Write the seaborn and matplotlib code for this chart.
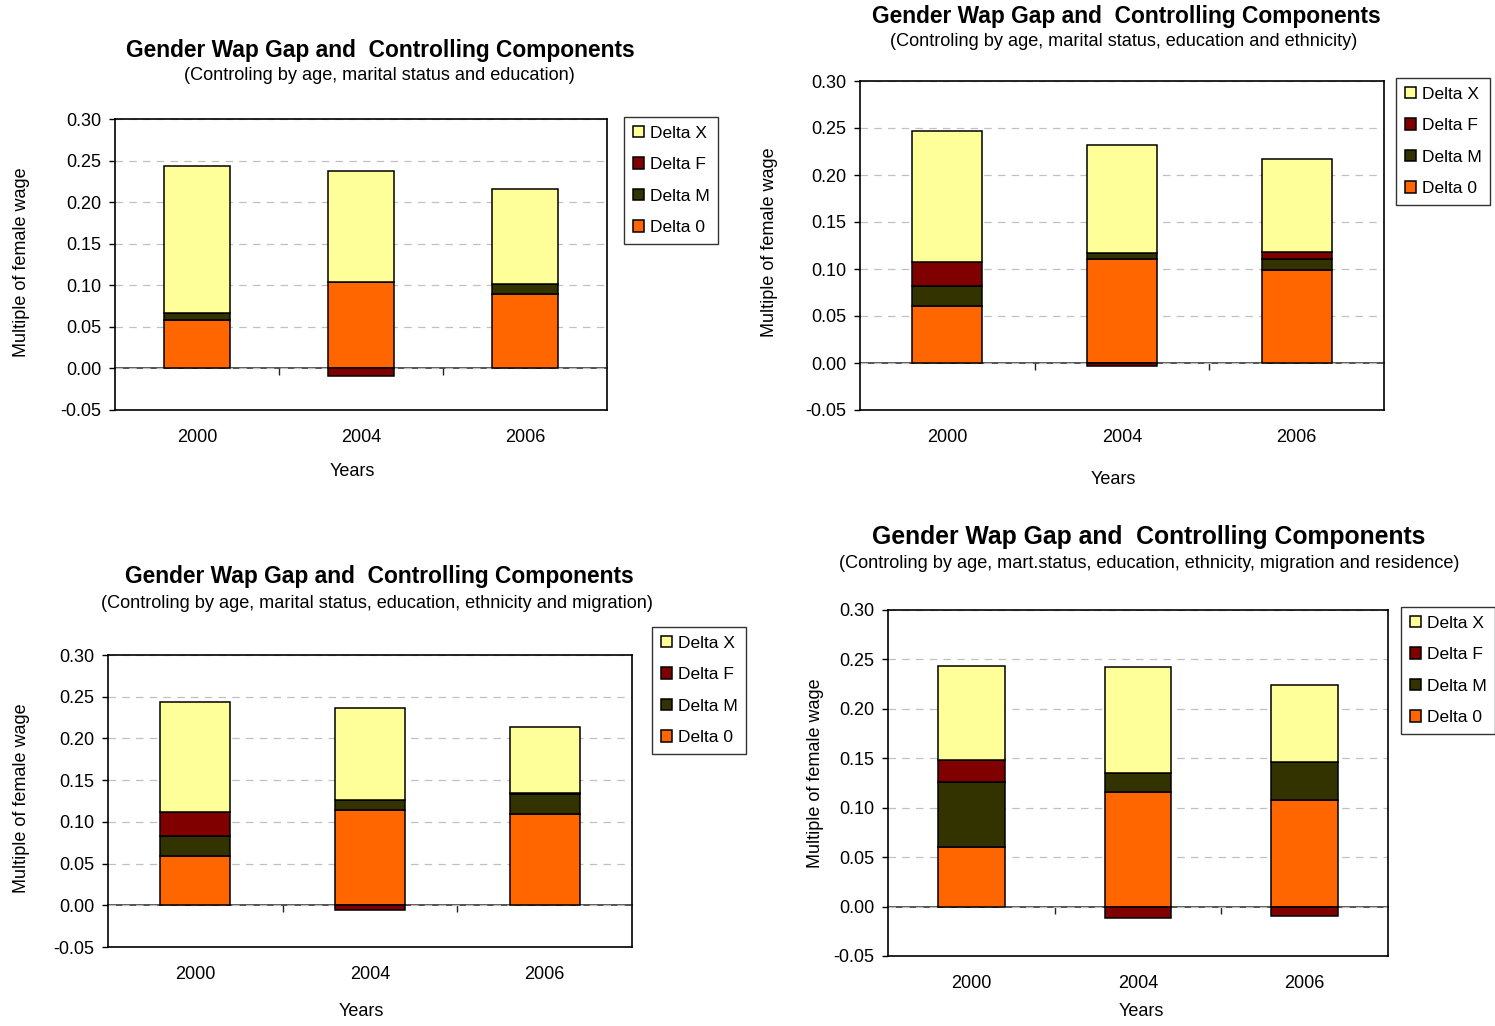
import matplotlib
matplotlib.use("Agg")
import matplotlib.pyplot as plt
import seaborn as sns
import pandas as pd
import numpy as np

sns.set_style("white")
plt.rcParams['font.family'] = ['Liberation Sans', 'DejaVu Sans']
plt.rcParams['text.color'] = 'black'
plt.rcParams['axes.labelcolor'] = 'black'

years = ["2000", "2004", "2006"]
components = ["Delta 0", "Delta M", "Delta F", "Delta X"]  # stacking order, bottom to top
colors = {"Delta X": "#FFFF99", "Delta F": "#800000", "Delta M": "#333300", "Delta 0": "#FF6600"}

# panel 1: age, marital status and education
p1_delta0 = [0.058, 0.104, 0.089]
p1_deltaM = [0.009, 0.000, 0.013]
p1_deltaF = [0.000, -0.009, 0.000]
p1_deltaX = [0.177, 0.134, 0.114]

# panel 2: + ethnicity
p2_delta0 = [0.061, 0.111, 0.099]
p2_deltaM = [0.021, 0.006, 0.012]
p2_deltaF = [0.025, -0.003, 0.007]
p2_deltaX = [0.140, 0.115, 0.099]

# panel 3: + migration
p3_delta0 = [0.059, 0.114, 0.110]
p3_deltaM = [0.024, 0.012, 0.023]
p3_deltaF = [0.029, -0.006, 0.002]
p3_deltaX = [0.132, 0.110, 0.079]

# panel 4: + residence
p4_delta0 = [0.060, 0.116, 0.108]
p4_deltaM = [0.066, 0.019, 0.038]
p4_deltaF = [0.022, -0.012, -0.010]
p4_deltaX = [0.095, 0.107, 0.078]

title = "Gender Wap Gap and  Controlling Components"
subtitles = [
    "(Controling by age, marital status and education)",
    "(Controling by age, marital status, education and ethnicity)",
    "(Controling by age, marital status, education, ethnicity and migration)",
    "(Controling by age, mart.status, education, ethnicity, migration and residence)",
]

W, H = 1495, 1026
fig = plt.figure(figsize=(W / 100, H / 100), dpi=100)


def fx(px):
    return px / W


def fy(py):
    return 1 - py / H


def draw_panel(values, box, legend_xy, title_xy, sub_xy, ylab_xy, years_xy, title_fs, sub_fs):
    left, top, right, bottom = box
    ax = fig.add_axes([fx(left), fy(bottom), (right - left) / W, (bottom - top) / H])
    df = pd.DataFrame(values, index=years)
    pos_base = np.zeros(len(years))
    neg_base = np.zeros(len(years))
    for comp in components:
        vals = df[comp].to_numpy()
        base = np.where(vals >= 0, pos_base, neg_base)
        sns.barplot(x=years, y=vals, bottom=base, color=colors[comp], width=0.4,
                    edgecolor="black", linewidth=1.1, saturation=1, ax=ax, label=comp, zorder=3)
        pos_base = pos_base + np.where(vals > 0, vals, 0)
        neg_base = neg_base + np.where(vals < 0, vals, 0)

    ax.set_ylim(-0.05, 0.30)
    ax.set_xlim(-0.5, 2.5)
    ticks = np.arange(-0.05, 0.301, 0.05)
    ax.set_yticks(ticks)
    ax.set_yticklabels([f"{v:.2f}" for v in ticks])
    ax.yaxis.grid(True, color="#c0c0c0", linestyle=(0, (6, 5)), linewidth=0.9, zorder=0)
    ax.set_axisbelow(True)
    for s in ax.spines.values():
        s.set_visible(True)
        s.set_color("black")
        s.set_linewidth(1.2)
    ax.tick_params(axis="y", direction="out", length=4, width=1, pad=6, labelsize=13, left=True,
                   colors="black")
    ax.tick_params(axis="x", length=0, pad=14, labelsize=13, colors="black")
    ax.set_xlabel("")
    ax.set_ylabel("")

    # category axis crossing at zero
    zero_frac = 0.05 / 0.35
    sec = ax.secondary_xaxis(zero_frac)
    sec.set_xticks([0.5, 1.5])
    sec.set_xticklabels(["", ""])
    sec.tick_params(direction="out", length=5, width=1, colors="#222222")
    sec.spines["bottom"].set_color("#444444")
    sec.spines["bottom"].set_linewidth(1.3)

    handles, labels = ax.get_legend_handles_labels()
    order = [labels.index(c) for c in ["Delta X", "Delta F", "Delta M", "Delta 0"]]
    leg = ax.legend([handles[i] for i in order], [labels[i] for i in order],
                    loc="upper left", bbox_to_anchor=(fx(legend_xy[0]), fy(legend_xy[1])),
                    bbox_transform=fig.transFigure, fontsize=12.5, frameon=True, fancybox=False,
                    handlelength=0.65, handleheight=0.65, handletextpad=0.35, labelspacing=0.95,
                    borderpad=0.5, borderaxespad=0)
    leg.get_frame().set_edgecolor("black")
    leg.get_frame().set_linewidth(1.0)

    fig.text(fx(title_xy[0]), fy(title_xy[1]), title, ha="center", va="center",
             fontsize=title_fs, fontweight="bold")
    fig.text(fx(sub_xy[0]), fy(sub_xy[1]), sub_fs[1], ha="center", va="center", fontsize=sub_fs[0])
    fig.text(fx(ylab_xy[0]), fy(ylab_xy[1]), "Multiple of female wage", ha="center", va="center",
             rotation=90, fontsize=13)
    fig.text(fx(years_xy[0]), fy(years_xy[1]), "Years", ha="center", va="center", fontsize=13)


panels = [
    dict(values={"Delta 0": p1_delta0, "Delta M": p1_deltaM, "Delta F": p1_deltaF, "Delta X": p1_deltaX},
         box=(115, 119, 607, 410), legend_xy=(624, 117), title_xy=(380, 50), sub_xy=(379, 76),
         ylab_xy=(22, 262), years_xy=(352, 471), title_fs=16.4, sub_fs=(13.1, subtitles[0])),
    dict(values={"Delta 0": p2_delta0, "Delta M": p2_deltaM, "Delta F": p2_deltaF, "Delta X": p2_deltaX},
         box=(860, 81, 1384, 410), legend_xy=(1396, 78), title_xy=(1126, 16), sub_xy=(1124, 42),
         ylab_xy=(769, 242), years_xy=(1113, 479), title_fs=16.4, sub_fs=(13.1, subtitles[1])),
    dict(values={"Delta 0": p3_delta0, "Delta M": p3_deltaM, "Delta F": p3_deltaF, "Delta X": p3_deltaX},
         box=(108, 655, 632, 947), legend_xy=(652, 627), title_xy=(379, 577), sub_xy=(377, 603),
         ylab_xy=(22, 798), years_xy=(361, 1012), title_fs=16.4, sub_fs=(13.1, subtitles[2])),
    dict(values={"Delta 0": p4_delta0, "Delta M": p4_deltaM, "Delta F": p4_deltaF, "Delta X": p4_deltaX},
         box=(888, 610, 1388, 956), legend_xy=(1401, 607), title_xy=(1149, 537), sub_xy=(1149, 563),
         ylab_xy=(815, 773), years_xy=(1141, 1012), title_fs=17.8, sub_fs=(13.1, subtitles[3])),
]

for p in panels:
    draw_panel(**p)

fig.savefig("out.png", dpi=100)
